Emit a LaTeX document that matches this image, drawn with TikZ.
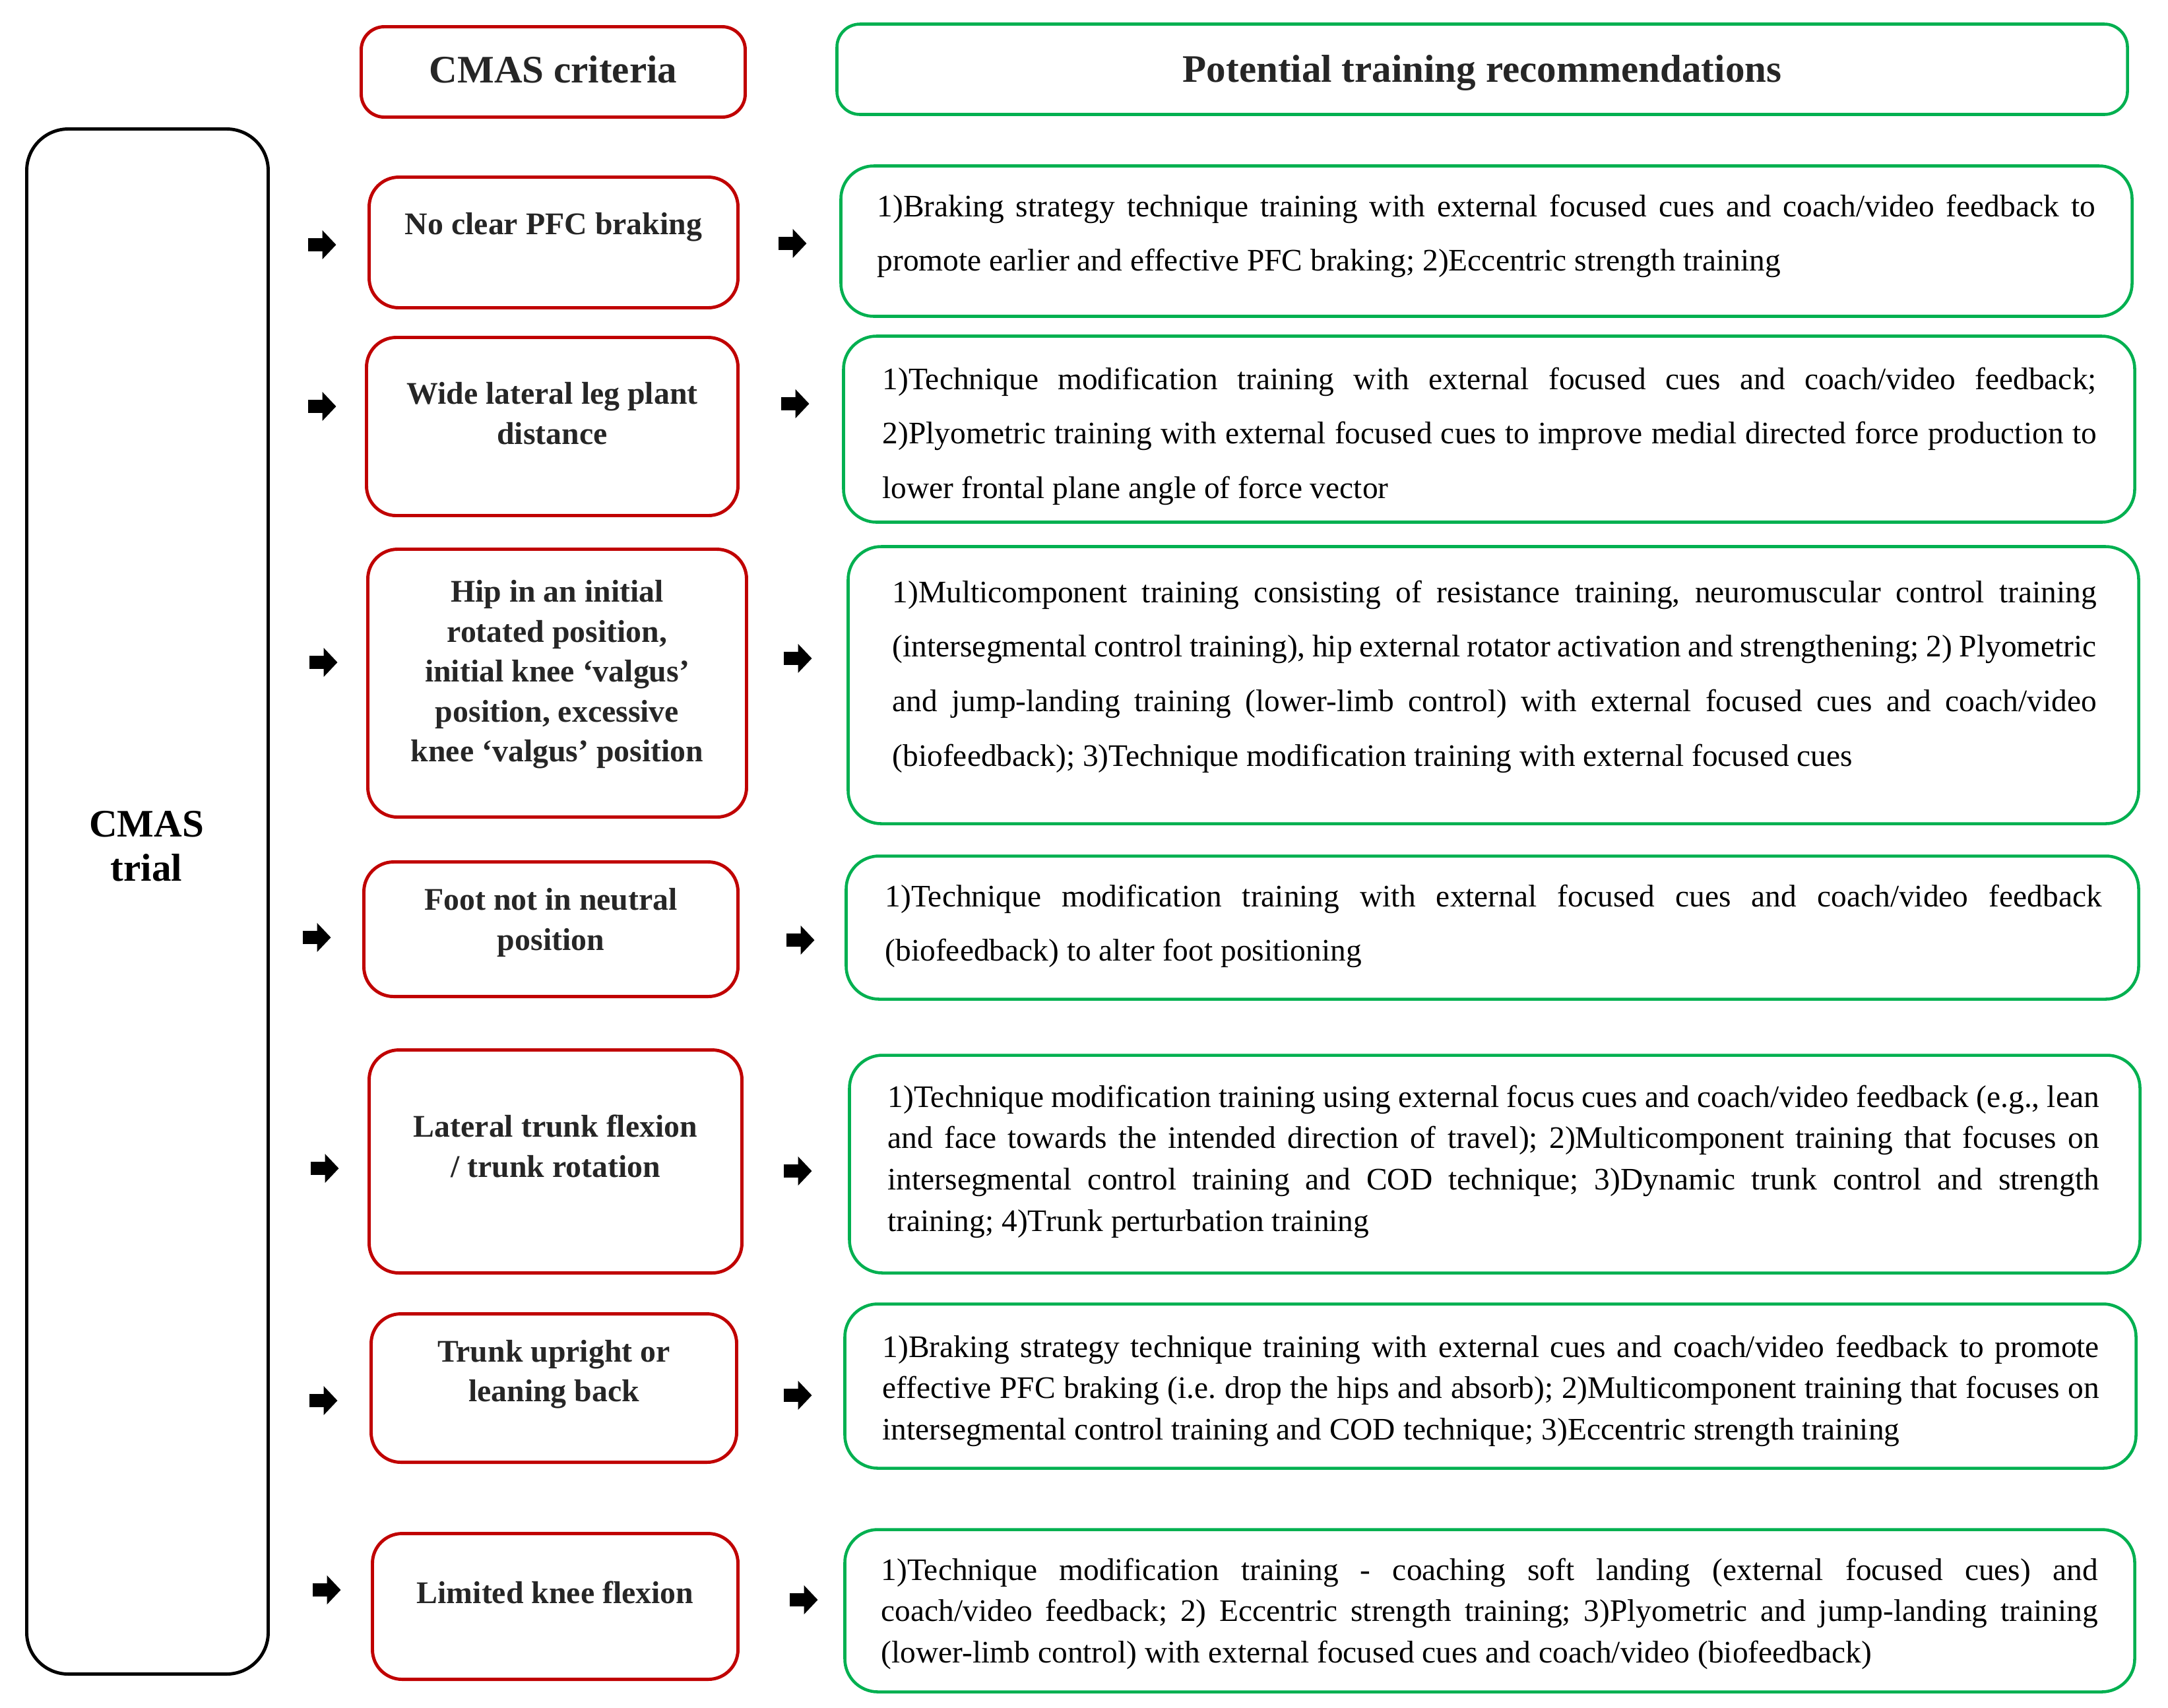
\documentclass[tikz,border=0pt]{standalone}
\usepackage{fontspec}
\setmainfont{Liberation Serif}
\usetikzlibrary{arrows.meta}
\definecolor{critred}{HTML}{C00000}
\definecolor{recgreen}{HTML}{00B050}
\definecolor{labelgray}{HTML}{262626}
\frenchspacing

\begin{document}
\begin{tikzpicture}[
    critbox/.style={draw=critred, line width=1.4pt, rounded corners=0.45cm},
    recbox/.style={draw=recgreen, line width=1.3pt, rounded corners=0.5cm},
    trialbox/.style={draw=black, line width=1.4pt, rounded corners=0.63cm},
    crittext/.style={align=center, text=labelgray, font=\fontsize{13.6}{17.2}\selectfont\bfseries},
    headtext/.style={align=center, text=labelgray, font=\fontsize{16.8}{19}\selectfont\bfseries},
    rectext/.style={anchor=base west, inner sep=0pt, align=justify, font=\fontsize{13.5}{23.6}\selectfont},
    recdense/.style={rectext, font=\fontsize{13.5}{17.9}\selectfont},
    blockarr/.style={line width=0.2cm, -{Triangle[length=0.21cm, width=0.43cm]}}
]
    \useasboundingbox (0,0) rectangle (32.86,-25.88);

    % headers
    \node[critbox, minimum width=5.82cm, minimum height=1.37cm, rounded corners=0.35cm] (crithead) at (8.385,-1.09) {};
    \node[headtext] (critheadt) at ([yshift=0.04cm]crithead.center) {CMAS criteria};
    \node[recbox, minimum width=19.56cm, minimum height=1.37cm, rounded corners=0.35cm] (rechead) at (22.465,-1.05) {};
    \node[headtext] (recheadt) at ([yshift=-0.06cm]rechead.center) {Potential training recommendations};

    % trial
    \node[trialbox, minimum width=3.66cm, minimum height=23.42cm] (trial) at (2.235,-13.665) {};
    \node[headtext, text=black] (trialt) at (2.22,-12.83) {CMAS\\trial};

    % criteria
    \node[critbox, minimum width=5.59cm, minimum height=1.98cm] (r1) at (8.39,-3.675) {};
    \node[critbox, minimum width=5.63cm, minimum height=2.70cm] (r2) at (8.37,-6.465) {};
    \node[critbox, minimum width=5.74cm, minimum height=4.06cm] (r3) at (8.445,-10.355) {};
    \node[critbox, minimum width=5.67cm, minimum height=2.04cm] (r4) at (8.35,-14.085) {};
    \node[critbox, minimum width=5.65cm, minimum height=3.38cm] (r5) at (8.42,-17.605) {};
    \node[critbox, minimum width=5.54cm, minimum height=2.25cm] (r6) at (8.395,-21.04) {};
    \node[critbox, minimum width=5.54cm, minimum height=2.21cm] (r7) at (8.415,-24.35) {};

    \node[crittext] (r1t) at ([yshift=0.23cm]r1.center) {No clear PFC braking};
    \node[crittext] (r2t) at ([yshift=0.20cm]r2.center) {Wide lateral leg plant\\distance};
    \node[crittext] (r3t) at ([yshift=0.13cm]r3.center) {Hip in an initial\\rotated position,\\initial knee ‘valgus’\\position, excessive\\knee ‘valgus’ position};
    \node[crittext] (r4t) at ([yshift=0.10cm]r4.center) {Foot not in neutral\\position};
    \node[crittext] (r5t) at ([yshift=0.23cm]r5.center) {Lateral trunk flexion\\/ trunk rotation};
    \node[crittext] (r6t) at ([yshift=0.21cm]r6.center) {Trunk upright or\\leaning back};
    \node[crittext] (r7t) at ([yshift=0.21cm]r7.center) {Limited knee flexion};

    % recommendations
    \node[recbox, minimum width=19.57cm, minimum height=2.28cm] (g1) at (22.53,-3.655) {};
    \node[recbox, minimum width=19.57cm, minimum height=2.82cm] (g2) at (22.57,-6.505) {};
    \node[recbox, minimum width=19.56cm, minimum height=4.20cm] (g3) at (22.635,-10.385) {};
    \node[recbox, minimum width=19.59cm, minimum height=2.17cm] (g4) at (22.62,-14.06) {};
    \node[recbox, minimum width=19.56cm, minimum height=3.30cm] (g5) at (22.655,-17.645) {};
    \node[recbox, minimum width=19.57cm, minimum height=2.49cm] (g6) at (22.59,-21.01) {};
    \node[recbox, minimum width=19.55cm, minimum height=2.46cm] (g7) at (22.58,-24.415) {};

    \node[rectext, text width=18.46cm] (g1t) at (13.29,-3.28) {1)Braking strategy technique training with external focused cues and coach/video feedback to\linebreak promote earlier and effective PFC braking; 2)Eccentric strength training};
    \node[rectext, text width=18.40cm] (g2t) at (13.37,-5.90) {1)Technique modification training with external focused cues and coach/video feedback;\linebreak 2)Plyometric training with external focused cues to improve medial directed force production to\linebreak lower frontal plane angle of force vector};
    \node[rectext, text width=18.25cm] (g3t) at (13.52,-9.13) {1)Multicomponent training consisting of resistance training, neuromuscular control training\linebreak (intersegmental control training), hip external rotator activation and strengthening; 2) Plyometric\linebreak and jump-landing training (lower-limb control) with external focused cues and coach/video\linebreak (biofeedback); 3)Technique modification training with external focused cues};
    \node[rectext, text width=18.44cm] (g4t) at (13.41,-13.74) {1)Technique modification training with external focused cues and coach/video feedback\linebreak (biofeedback) to alter foot positioning};
    \node[recdense, text width=18.36cm] (g5t) at (13.45,-16.78) {1)Technique modification training using external focus cues and coach/video feedback (e.g., lean\linebreak and face towards the intended direction of travel); 2)Multicomponent training that focuses on\linebreak intersegmental control training and COD technique; 3)Dynamic trunk control and strength\linebreak training; 4)Trunk perturbation training};
    \node[recdense, text width=18.44cm] (g6t) at (13.37,-20.57) {1)Braking strategy technique training with external cues and coach/video feedback to promote\linebreak effective PFC braking (i.e.\ drop the hips and absorb); 2)Multicomponent training that focuses on\linebreak intersegmental control training and COD technique; 3)Eccentric strength training};
    \node[recdense, text width=18.44cm] (g7t) at (13.35,-23.95) {1)Technique modification training - coaching soft landing (external focused cues) and\linebreak coach/video feedback; 2) Eccentric strength training; 3)Plyometric and jump-landing training\linebreak (lower-limb control) with external focused cues and coach/video (biofeedback)};

    % arrows
    \foreach \x/\y in {4.88/3.71, 4.88/6.16, 4.90/10.04, 4.80/14.21, 4.92/17.71, 4.90/21.23, 4.95/24.10} {
        \draw[blockarr] (\x-0.215,-\y) -- (\x+0.215,-\y);
    }
    \foreach \x/\y in {12.01/3.69, 12.05/6.12, 12.09/9.98, 12.13/14.25, 12.09/17.75, 12.09/21.15, 12.18/24.25} {
        \draw[blockarr] (\x-0.215,-\y) -- (\x+0.215,-\y);
    }
\end{tikzpicture}
\end{document}
